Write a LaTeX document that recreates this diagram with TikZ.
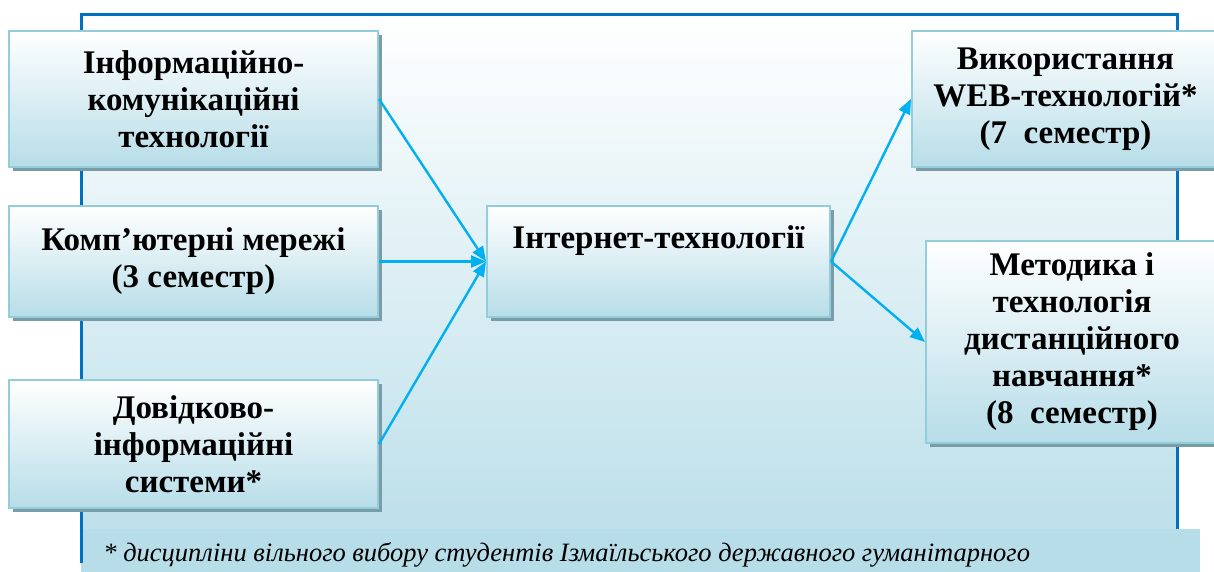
\documentclass[tikz,border=0pt]{standalone}
\usepackage{fontspec}
\setmainfont{Liberation Serif}
\usetikzlibrary{arrows.meta,shadows}
\definecolor{framec}{RGB}{0,112,192}
\definecolor{boxline}{RGB}{146,205,220}
\definecolor{boxbot}{RGB}{183,221,232}
\definecolor{shadowc}{RGB}{122,156,166}
\definecolor{arrowc}{RGB}{0,176,240}
\begin{document}
\begin{tikzpicture}[x=0.5pt,y=-0.5pt,
	subjfont/.style={font=\bfseries\fontsize{16.5}{18.5}\selectfont},
	subj/.style={draw=boxline, line width=1pt, top color=white, bottom color=boxbot, align=center, inner sep=0pt, subjfont,
		drop shadow={shadow xshift=2pt, shadow yshift=-2pt, fill=shadowc, opacity=1}},
	link/.style={arrowc, line width=1.2pt, -{Triangle[length=7.5pt,width=6pt]}}]
				\useasboundingbox (0,0) rectangle (1214,572);
				\shade[top color=white, bottom color=boxbot] (81,15) rectangle (1177,572);
				\fill[boxbot] (81,529) rectangle (1200,572);
				\draw[framec, line width=1.5pt] (81,563) -- (81,15) -- (1177,15) -- (1177,529);
				\node[subj, minimum width=184.5pt, minimum height=68pt] (ikt) at (193.5,99) {Інформаційно-\\комунікаційні\\технології};
				\node[subj, minimum width=184.5pt, minimum height=55.5pt] (mer) at (193.5,261.5) {Комп’ютерні мережі\\(3 семестр)};
				\node[subj, minimum width=184.5pt, minimum height=64pt] (dov) at (193.5,444) {Довідково-\\інформаційні\\системи*};
				\node[subj, minimum width=171.5pt, minimum height=55.5pt,
					label={[subjfont, anchor=north, inner sep=0pt, yshift=-10pt]north:Інтернет-технології}] (inet) at (658.5,261.5) {};
				\node[subj, minimum width=153.5pt, minimum height=68pt] (web) at (1065.5,99) {Використання\\WEB-технологій*\\(7~~семестр)};
				\node[subj, minimum width=146pt, minimum height=101pt] (dist) at (1072,342) {Методика і\\технологія\\дистанційного\\навчання*\\(8~~семестр)};
				\draw[link] (ikt.east) -- (inet.west);
				\draw[link] (mer.east) -- (inet.west);
				\draw[link] (dov.east) -- (inet.west);
				\draw[link] (inet.east) -- (web.west);
				\draw[link] (inet.east) -- (dist.west);
				\node[anchor=base west, inner sep=0pt, font=\itshape\fontsize{13.25}{16}\selectfont] (note) at (103,561) {* дисципліни вільного вибору студентів Ізмаїльського державного гуманітарного};
			\end{tikzpicture}
\end{document}
